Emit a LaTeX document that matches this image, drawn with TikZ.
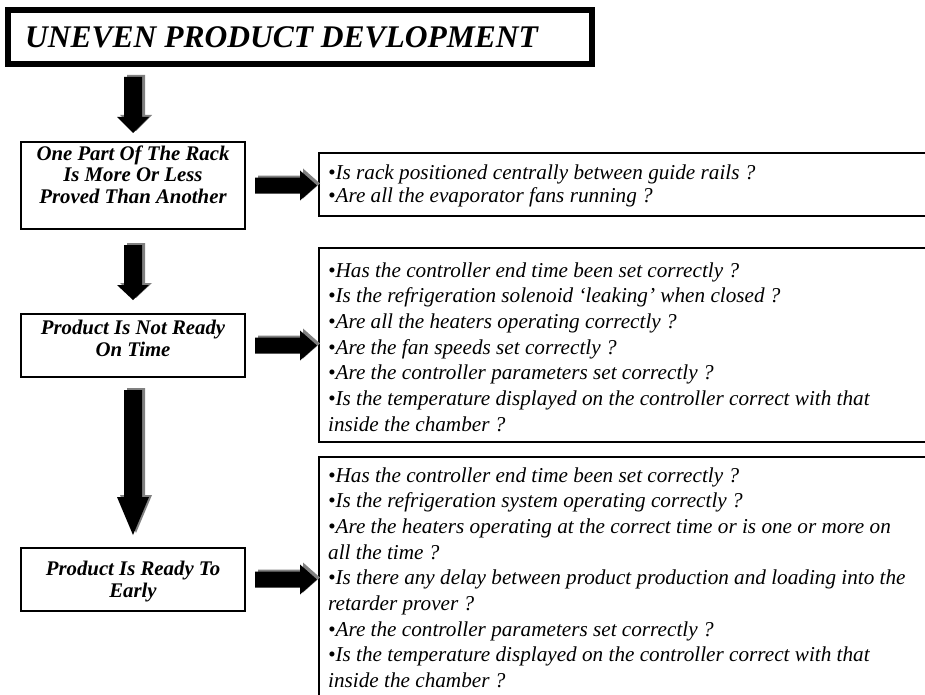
\documentclass[tikz,border=0pt]{standalone}
\usepackage{fontspec}
\setmainfont{Liberation Serif}
\usetikzlibrary{calc}
\definecolor{shadowgray}{RGB}{128,128,128}
% down block arrow: #1 start, #2 tip, #3 head length, #4 dx, #5 dy, #6 colour
\newcommand\downpoly[6]{%
  \fill[#6] ([xshift=#4-9pt,yshift=#5]#1) -- ([xshift=#4+9pt,yshift=#5]#1)
    -- ([xshift=#4+9pt,yshift=#5+#3]#2) -- ([xshift=#4+16pt,yshift=#5+#3]#2)
    -- ([xshift=#4,yshift=#5]#2)
    -- ([xshift=#4-16pt,yshift=#5+#3]#2) -- ([xshift=#4-9pt,yshift=#5+#3]#2) -- cycle;}
% right block arrow
\newcommand\rightpoly[6]{%
  \fill[#6] ([xshift=#4,yshift=#5+8pt]#1) -- ([xshift=#4-#3,yshift=#5+8pt]#2)
    -- ([xshift=#4-#3,yshift=#5+15pt]#2) -- ([xshift=#4,yshift=#5]#2)
    -- ([xshift=#4-#3,yshift=#5-15pt]#2) -- ([xshift=#4-#3,yshift=#5-8pt]#2)
    -- ([xshift=#4,yshift=#5-8pt]#1) -- cycle;}
\newcommand\downblk[3]{\downpoly{#1}{#2}{#3}{3pt}{2pt}{shadowgray}\downpoly{#1}{#2}{#3}{0pt}{0pt}{black}}
\newcommand\rightblk[3]{\rightpoly{#1}{#2}{#3}{3pt}{2pt}{shadowgray}\rightpoly{#1}{#2}{#3}{0pt}{0pt}{black}}
\begin{document}
\begin{tikzpicture}[x=1pt,y=-1pt,
  box/.style={draw=black, line width=1.2pt, minimum width=224pt, inner sep=0pt, outer sep=0pt},
  qbox/.style={draw=black, line width=1.2pt, minimum width=620pt, inner sep=0pt, outer sep=0pt, anchor=north west},
  lefttxt/.style={font=\fontsize{20.8}{21.5}\selectfont\bfseries\itshape, align=center, anchor=base, inner sep=0pt},
  qtxt/.style={font=\fontsize{21.2}{25.7}\selectfont\itshape, align=left, anchor=base west, inner sep=0pt}]
\useasboundingbox (0,0) rectangle (925,695);
\begin{scope}
\clip (0,0) rectangle (925,695);
% title
\node[draw=black, line width=6pt, minimum width=584pt, minimum height=54pt, inner sep=0pt, outer sep=0pt] (title) at (300,37) {};
\node[font=\fontsize{31.5}{36}\selectfont\bfseries\itshape, anchor=base west, inner sep=0pt] (ttl) at (25,48) {UNEVEN PRODUCT DEVLOPMENT};
% left boxes
\node[box, minimum height=87pt] (b1) at (133,185.5) {};
\node[box, minimum height=63pt] (b2) at (133,345.5) {};
\node[box, minimum height=63pt] (b3) at (133,579.5) {};
\node[lefttxt] (t1) at (133,203) {One Part Of The Rack\\Is More Or Less\\Proved Than Another};
\node[lefttxt] (t2) at (133,356) {Product Is Not Ready\\On Time};
\node[lefttxt] (t3) at (133,597) {Product Is Ready To\\Early};
% right boxes
\node[qbox, minimum height=63pt] (r1) at (319,153) {};
\node[qbox, minimum height=194pt] (r2) at (319,248) {};
\node[qbox, minimum height=270pt] (r3) at (319,457) {};
\node[qtxt, font=\fontsize{21.2}{23}\selectfont\itshape] (q1) at (328,202) {•Is rack positioned centrally between guide rails ?\\•Are all the evaporator fans running ?};
\node[qtxt] (q2) at (328,431.2) {•Has the controller end time been set correctly ?\\•Is the refrigeration solenoid ‘leaking’ when closed ?\\•Are all the heaters operating correctly ?\\•Are the fan speeds set correctly ?\\•Are the controller parameters set correctly ?\\•Is the temperature displayed on the controller correct with that\\inside the chamber ?};
\node[qtxt] (q3) at (328,687.6) {•Has the controller end time been set correctly ?\\•Is the refrigeration system operating correctly ?\\•Are the heaters operating at the correct time or is one or more on\\all the time ?\\•Is there any delay between product production and loading into the\\retarder prover ?\\•Are the controller parameters set correctly ?\\•Is the temperature displayed on the controller correct with that\\inside the chamber ?};
% down arrows
\coordinate (a1s) at ($(b1.north |- title.south)+(0,13)$);
\coordinate (a1t) at ($(b1.north)+(0,-9)$);
\coordinate (a2s) at ($(b1.south)+(0,16)$);
\coordinate (a2t) at ($(b2.north)+(0,-14)$);
\coordinate (a3s) at ($(b2.south)+(0,13)$);
\coordinate (a3t) at ($(b3.north)+(0,-13)$);
\downblk{a1s}{a1t}{16pt}
\downblk{a2s}{a2t}{15pt}
\downblk{a3s}{a3t}{38pt}
% right arrows
\coordinate (h1s) at ($(b1.east)+(10,0)$);
\coordinate (h1t) at ($(r1.west |- b1.east)+(-2,0)$);
\coordinate (h2s) at ($(b2.east)+(10,0)$);
\coordinate (h2t) at ($(r2.west |- b2.east)+(-2,0)$);
\coordinate (h3s) at ($(b3.east)+(10,0)$);
\coordinate (h3t) at ($(r3.west |- b3.east)+(-2,0)$);
\rightblk{h1s}{h1t}{17pt}
\rightblk{h2s}{h2t}{17pt}
\rightblk{h3s}{h3t}{17pt}
\end{scope}
\end{tikzpicture}
\end{document}
